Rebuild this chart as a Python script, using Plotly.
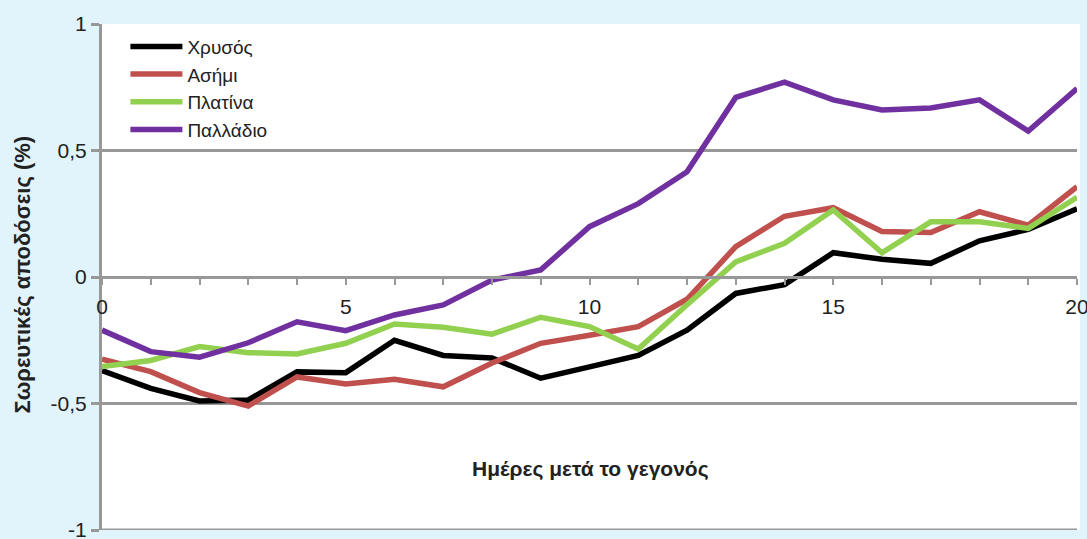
import plotly.graph_objects as go

days = list(range(21))

gold = [-0.37, -0.44, -0.49, -0.486, -0.375, -0.378, -0.25, -0.31, -0.32, -0.40,
        -0.355, -0.31, -0.21, -0.065, -0.03, 0.096, 0.07, 0.054, 0.143, 0.188, 0.27]
silver = [-0.325, -0.374, -0.457, -0.51, -0.395, -0.423, -0.404, -0.434, -0.34, -0.262,
          -0.23, -0.196, -0.088, 0.12, 0.24, 0.274, 0.18, 0.176, 0.258, 0.205, 0.357]
platinum = [-0.354, -0.33, -0.275, -0.299, -0.304, -0.262, -0.186, -0.199, -0.226, -0.159,
            -0.196, -0.285, -0.11, 0.06, 0.133, 0.265, 0.096, 0.218, 0.218, 0.192, 0.315]
palladium = [-0.21, -0.295, -0.317, -0.26, -0.177, -0.212, -0.15, -0.11, -0.012, 0.028,
             0.199, 0.29, 0.416, 0.71, 0.77, 0.70, 0.66, 0.668, 0.70, 0.577, 0.745]

series_names = ["Χρυσός", "Ασήμι", "Πλατίνα", "Παλλάδιο"]
series_values = [gold, silver, platinum, palladium]
series_colors = ["#000000", "#C0504D", "#92D050", "#7030A0"]

y_ticks = [-1, -0.5, 0, 0.5, 1]
y_tick_text = ["-1", "-0,5", "0", "0,5", "1"]
x_ticks = [0, 5, 10, 15, 20]

FONT = "Liberation Sans, Arial, sans-serif"
GRID = "#989898"
TEXT = "#222222"

fig = go.Figure()
for name, vals, col in zip(series_names, series_values, series_colors):
    fig.add_trace(go.Scatter(x=days, y=vals, name=name, mode="lines",
                             line=dict(color=col, width=5.5, shape="linear"),
                             cliponaxis=False))

# white strip just past the right end of the plotting area
fig.add_shape(type="rect", xref="paper", yref="paper", x0=1, x1=1.003, y0=0, y1=1,
              fillcolor="#FFFFFF", line=dict(width=0), layer="below")
# bottom grid line at -1
fig.add_shape(type="line", xref="x", yref="y", x0=0, x1=20, y0=-1, y1=-1,
              line=dict(color=GRID, width=3), layer="below")

fig.update_layout(
    width=1087, height=539,
    margin=dict(l=102, r=10, t=24, b=9, autoexpand=False),
    paper_bgcolor="#E1F3FB",
    plot_bgcolor="#FFFFFF",
    font=dict(family=FONT, size=20, color=TEXT),
    showlegend=True,
    legend=dict(x=0.024, y=0.993, xanchor="left", yanchor="top",
                bgcolor="rgba(0,0,0,0)", font=dict(size=19, color=TEXT),
                itemwidth=52, tracegroupgap=0),
    xaxis=dict(range=[0, 20], anchor="free", position=0.5, automargin=False,
               tickvals=x_ticks, ticktext=[str(v) for v in x_ticks],
               showgrid=False, zeroline=False,
               showline=True, linecolor=GRID, linewidth=3,
               ticks="outside", ticklen=6, tickwidth=2, tickcolor=GRID,
               minor=dict(dtick=1, ticks="outside", ticklen=6, tickwidth=2, tickcolor=GRID),
               tickfont=dict(size=21, color=TEXT), ticklabelstandoff=4,
               ticklabeloverflow="allow"),
    yaxis=dict(range=[-1, 1], tickvals=y_ticks, ticktext=y_tick_text, automargin=False,
               showgrid=True, gridcolor=GRID, gridwidth=3, zeroline=False,
               showline=True, linecolor=GRID, linewidth=3,
               ticks="outside", ticklen=8, tickwidth=3, tickcolor=GRID,
               tickfont=dict(size=21, color=TEXT), ticklabeloverflow="allow"),
    annotations=[
        dict(text="<b>Σωρευτικές αποδόσεις (%)</b>", xref="paper", yref="paper",
             x=-0.082, y=0.505, textangle=-90, showarrow=False,
             xanchor="center", yanchor="middle", font=dict(size=22, color=TEXT)),
        dict(text="<b>Ημέρες μετά το γεγονός</b>", xref="paper", yref="paper",
             x=0.501, y=0.12, showarrow=False, xanchor="center", yanchor="middle",
             font=dict(size=21, color=TEXT)),
    ],
)

fig.write_html("out.html")
